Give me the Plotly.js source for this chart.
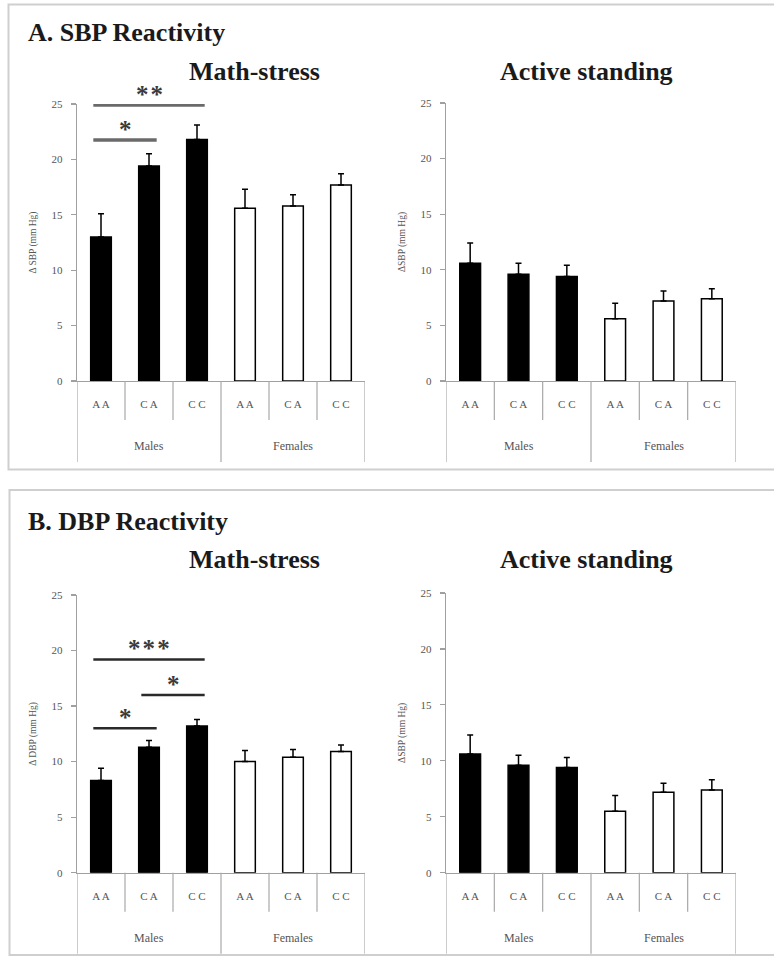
<!DOCTYPE html>
<html><head><meta charset="utf-8">
<script src="https://cdn.plot.ly/plotly-3.0.1.min.js"></script>
<style>html,body{margin:0;padding:0;background:#fff}#chart{width:774px;height:959px}</style>
</head><body><div id="chart"></div>
<script>
// ---------- data ----------
const genotypes = ["A A", "C A", "C C"];
const sexes = ["Males", "Females"];

const sbpMathMales = [13.0, 19.4, 21.8];
const sbpMathMalesErr = [2.1, 1.1, 1.3];
const sbpMathFemales = [15.6, 15.8, 17.7];
const sbpMathFemalesErr = [1.7, 1.0, 1.0];

const sbpStandMales = [10.6, 9.6, 9.4];
const sbpStandMalesErr = [1.8, 1.0, 1.0];
const sbpStandFemales = [5.6, 7.2, 7.4];
const sbpStandFemalesErr = [1.4, 0.9, 0.9];

const dbpMathMales = [8.3, 11.3, 13.2];
const dbpMathMalesErr = [1.1, 0.6, 0.6];
const dbpMathFemales = [10.0, 10.4, 10.9];
const dbpMathFemalesErr = [1.0, 0.7, 0.6];

const dbpStandMales = [10.6, 9.6, 9.4];
const dbpStandMalesErr = [1.7, 0.9, 0.9];
const dbpStandFemales = [5.5, 7.2, 7.4];
const dbpStandFemalesErr = [1.4, 0.8, 0.9];

// significance comparisons (genotype indices within Males)
const sbpSigFrom = [0, 0];
const sbpSigTo = [2, 1];
const sbpSigY = [24.9, 21.75];
const sbpSigLabel = ["**", "*"];

const dbpSigFrom = [0, 1, 0];
const dbpSigTo = [2, 2, 1];
const dbpSigY = [19.2, 16.0, 13.0];
const dbpSigLabel = ["***", "*", "*"];

// ---------- geometry (px) ----------
const W = 774, H = 959;
const px = v => v / W;
const py = v => 1 - v / H;
const SERIF = "Liberation Serif, Times New Roman, serif";

const panels = [
  {ax: "", x0: 77, x1: 365, y0: 381, y1: 104, m: sbpMathMales, me: sbpMathMalesErr, f: sbpMathFemales, fe: sbpMathFemalesErr,
   ytitle: "\u0394 SBP (mm Hg)", sub: "Math-stress", subX: 254, subY: 71,
   sig: [sbpSigFrom, sbpSigTo, sbpSigY, sbpSigLabel], sigColor: "#6a6a6a", sigW: 3.5},
  {ax: "2", x0: 446, x1: 736, y0: 381, y1: 103, m: sbpStandMales, me: sbpStandMalesErr, f: sbpStandFemales, fe: sbpStandFemalesErr,
   ytitle: "\u0394SBP (mm Hg)", sub: "Active standing", subX: 586, subY: 71, sig: null},
  {ax: "3", x0: 77, x1: 365, y0: 872.7, y1: 595, m: dbpMathMales, me: dbpMathMalesErr, f: dbpMathFemales, fe: dbpMathFemalesErr,
   ytitle: "\u0394 DBP (mm Hg)", sub: "Math-stress", subX: 254, subY: 559,
   sig: [dbpSigFrom, dbpSigTo, dbpSigY, dbpSigLabel], sigColor: "#2a2a2a", sigW: 2.5},
  {ax: "4", x0: 446, x1: 736, y0: 872.7, y1: 593, m: dbpStandMales, me: dbpStandMalesErr, f: dbpStandFemales, fe: dbpStandFemalesErr,
   ytitle: "\u0394SBP (mm Hg)", sub: "Active standing", subX: 586, subY: 559, sig: null}
];

const traces = [];
const shapes = [];
const annotations = [];
const layout = {
  width: W, height: H,
  margin: {l: 0, r: 0, t: 0, b: 0},
  paper_bgcolor: "#fff", plot_bgcolor: "rgba(0,0,0,0)",
  showlegend: false,
  font: {family: SERIF, color: "#555"},
  shapes: shapes, annotations: annotations
};

const nG = genotypes.length;
const allLabels = sexes.flatMap(() => genotypes);

panels.forEach(p => {
  const xa = "x" + p.ax, ya = "y" + p.ax;
  const xKey = "xaxis" + p.ax, yKey = "yaxis" + p.ax;
  const hPx = p.y0 - p.y1;
  const mIdx = genotypes.map((g, i) => i);
  const fIdx = genotypes.map((g, i) => i + nG);

  const errCommon = {type: "data", symmetric: false, color: "#000", thickness: 1.5, width: 3};
  traces.push({
    type: "bar", x: mIdx, y: p.m, xaxis: xa, yaxis: ya, width: 0.43,
    marker: {color: "#000", line: {color: "#000", width: 1.5}},
    error_y: Object.assign({array: p.me, arrayminus: p.me.map(() => 0)}, errCommon),
    hoverinfo: "skip"
  });
  traces.push({
    type: "bar", x: fIdx, y: p.f, xaxis: xa, yaxis: ya, width: 0.43,
    marker: {color: "#fff", line: {color: "#000", width: 1.5}},
    error_y: Object.assign({array: p.fe, arrayminus: p.fe.map(() => 0)}, errCommon),
    hoverinfo: "skip"
  });

  layout[xKey] = {
    domain: [px(p.x0), px(p.x1)], anchor: ya,
    range: [-0.5, allLabels.length - 0.5],
    tickmode: "array", tickvals: allLabels.map((l, i) => i), ticktext: allLabels,
    ticks: "", ticklabelstandoff: 13,
    tickfont: {family: SERIF, size: 11, color: "#555"},
    showline: true, linecolor: "#a0a0a0", linewidth: 1.2,
    showgrid: false, zeroline: false, fixedrange: true
  };
  layout[yKey] = {
    domain: [py(p.y0), py(p.y1)], anchor: xa,
    range: [0, 25], dtick: 5, tick0: 0,
    ticks: "outside", ticklen: 5, tickcolor: "#a0a0a0", tickwidth: 1.2,
    tickfont: {family: SERIF, size: 11, color: "#555"}, ticklabelstandoff: 6,
    showline: true, linecolor: "#a0a0a0", linewidth: 1.2,
    showgrid: false, zeroline: false, fixedrange: true,
    title: {text: p.ytitle, font: {family: SERIF, size: 9.5, color: "#555"}, standoff: 13}
  };

  // category dividers below the axis
  const yDom = ya + " domain";
  for (let k = 0; k <= allLabels.length; k++) {
    const isGroup = k % nG === 0;
    shapes.push({
      type: "line", xref: xa, yref: yDom, x0: k - 0.5, x1: k - 0.5,
      y0: 0, y1: -(isGroup ? 81 : 39) / hPx,
      line: {color: "#a8a8a8", width: 1.2}
    });
  }
  sexes.forEach((s, i) => {
    annotations.push({
      xref: xa, yref: yDom, x: i * nG + (nG - 1) / 2, y: -65 / hPx,
      text: s, showarrow: false, xanchor: "center", yanchor: "middle",
      font: {family: SERIF, size: 12, color: "#555"}
    });
  });

  // panel subtitle
  annotations.push({
    xref: "paper", yref: "paper", x: px(p.subX), y: py(p.subY),
    text: "<b>" + p.sub + "</b>", showarrow: false, xanchor: "center", yanchor: "middle",
    font: {family: SERIF, size: 26, color: "#1a1a1a"}
  });

  // significance bars
  if (p.sig) {
    const [from, to, yv, lab] = p.sig;
    from.forEach((a, i) => {
      const xa0 = a - 0.16, xa1 = to[i] + 0.16;
      shapes.push({
        type: "line", xref: xa, yref: ya, x0: xa0, x1: xa1, y0: yv[i], y1: yv[i],
        line: {color: p.sigColor, width: p.sigW}
      });
      annotations.push({
        xref: xa, yref: ya, x: (xa0 + xa1) / 2, y: yv[i],
        text: "<b>" + lab[i].split("").join("\u200A") + "</b>", showarrow: false,
        xanchor: "center", yanchor: "bottom", yshift: -5,
        font: {family: SERIF, size: 25, color: "#3a3a3a"}
      });
    });
  }
});

// section titles
annotations.push({xref: "paper", yref: "paper", x: px(26), y: py(33), text: "<b>A. SBP Reactivity</b>",
  showarrow: false, xanchor: "left", yanchor: "middle", font: {family: SERIF, size: 26, color: "#1a1a1a"}});
annotations.push({xref: "paper", yref: "paper", x: px(26), y: py(521), text: "<b>B. DBP Reactivity</b>",
  showarrow: false, xanchor: "left", yanchor: "middle", font: {family: SERIF, size: 26, color: "#1a1a1a"}});

// panel frames
shapes.push({type: "rect", xref: "paper", yref: "paper", x0: px(8.5), x1: px(790), y0: py(4.5), y1: py(469.5),
  line: {color: "#cfcfcf", width: 2}, layer: "below"});
shapes.push({type: "rect", xref: "paper", yref: "paper", x0: px(9.5), x1: px(790), y0: py(490), y1: py(955),
  line: {color: "#cfcfcf", width: 2}, layer: "below"});

Plotly.newPlot("chart", traces, layout, {staticPlot: true, displayModeBar: false});
</script>
</body></html>
